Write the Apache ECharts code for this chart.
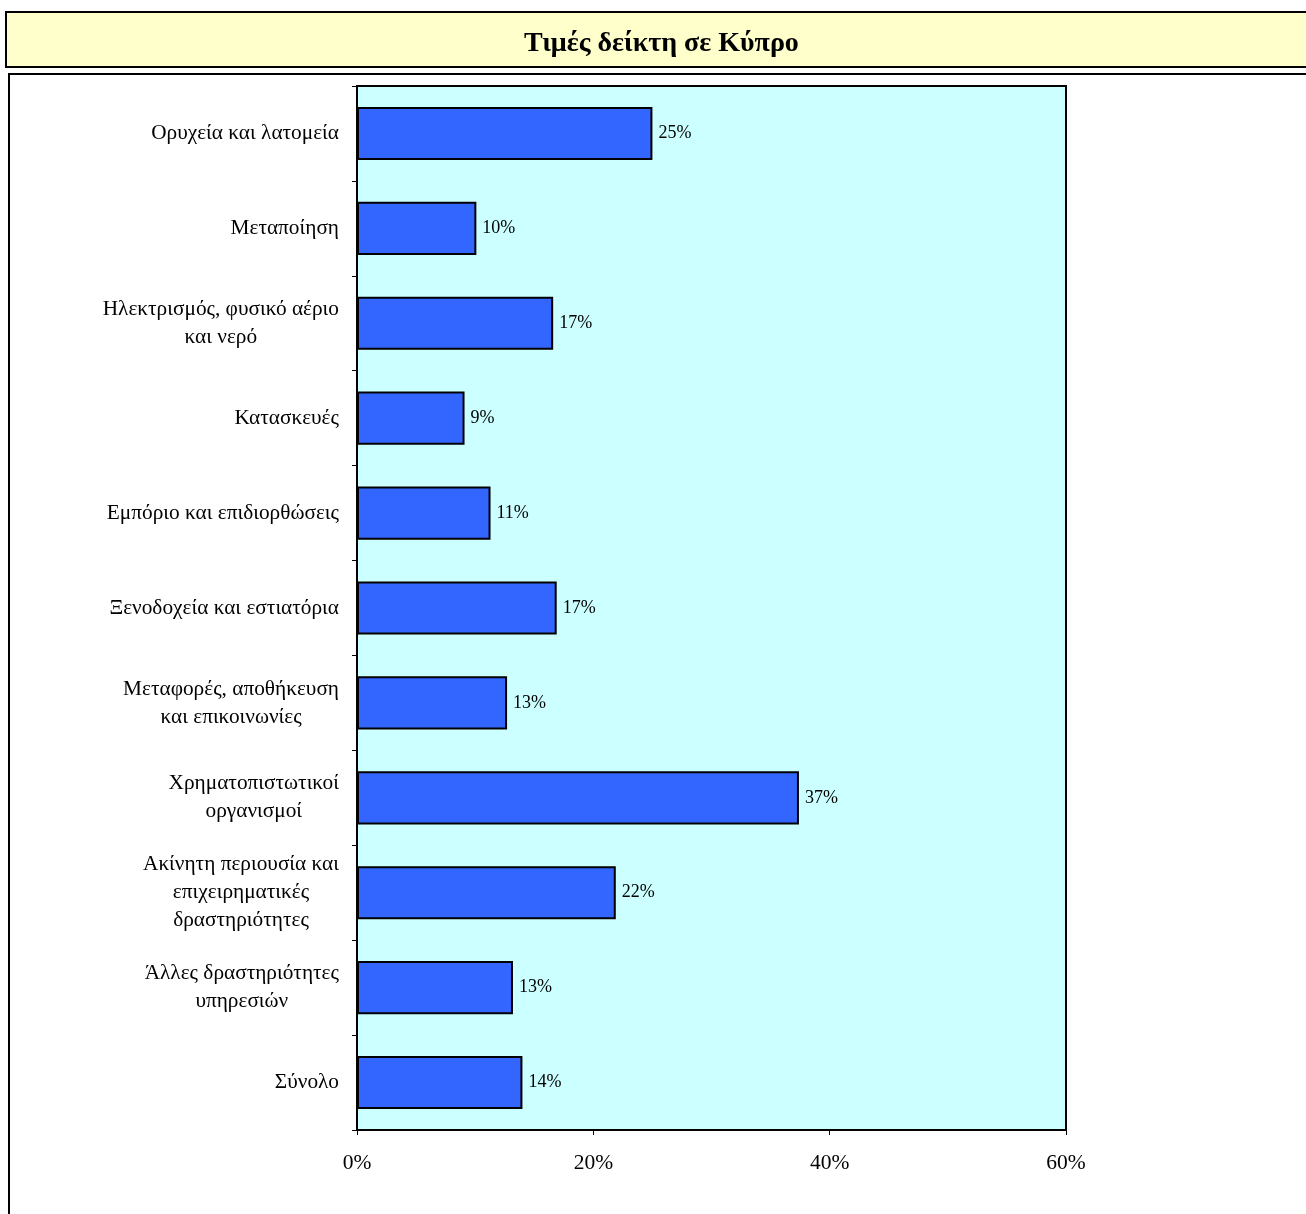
<!DOCTYPE html>
<html>
<head>
<meta charset="utf-8">
<script src="https://cdn.jsdelivr.net/npm/echarts@6/dist/echarts.min.js"></script>
<style>
html,body{margin:0;padding:0;background:#fff;}
#chart{width:1306px;height:1214px;}
</style>
</head>
<body>
<div id="chart"></div>
<script>
var titleText = 'Τιμές δείκτη σε Κύπρο';
var categories = [
  'Ορυχεία και λατομεία',
  'Μεταποίηση',
  'Ηλεκτρισμός, φυσικό αέριο\nκαι νερό',
  'Κατασκευές',
  'Εμπόριο και επιδιορθώσεις',
  'Ξενοδοχεία και εστιατόρια',
  'Μεταφορές, αποθήκευση\nκαι επικοινωνίες',
  'Χρηματοπιστωτικοί\nοργανισμοί',
  'Ακίνητη περιουσία και\nεπιχειρηματικές\nδραστηριότητες',
  'Άλλες δραστηριότητες\nυπηρεσιών',
  'Σύνολο'
];
var values = [25.0, 10.1, 16.6, 9.1, 11.3, 16.9, 12.7, 37.4, 21.9, 13.2, 14.0];
var xTicks = [0, 20, 40, 60];

var FONT = '"Liberation Serif", "Times New Roman", serif';
var chart = echarts.init(document.getElementById('chart'), null, {renderer: 'canvas'});
chart.setOption({
  animation: false,
  backgroundColor: '#ffffff',
  graphic: [
    {type: 'rect', z: -10, shape: {x: 6, y: 12, width: 1320, height: 55},
     style: {fill: '#FFFFCC', stroke: '#000', lineWidth: 2}},
    {type: 'rect', z: -10, shape: {x: 9, y: 74, width: 1320, height: 1200},
     style: {fill: 'none', stroke: '#000', lineWidth: 2}}
  ],
  title: {
    text: titleText,
    left: 519,
    top: 25,
    textStyle: {fontFamily: FONT, fontWeight: 'bold', fontSize: 28, color: '#000'}
  },
  grid: {
    left: 357, top: 86, width: 709, height: 1044,
    show: true, backgroundColor: '#CCFFFF', borderColor: '#000', borderWidth: 2
  },
  xAxis: {
    type: 'value',
    min: xTicks[0], max: xTicks[xTicks.length - 1], interval: xTicks[1] - xTicks[0],
    axisLine: {show: true, lineStyle: {color: '#000', width: 2}},
    axisTick: {show: true, length: 5, lineStyle: {color: '#000', width: 1}},
    splitLine: {show: false},
    axisLabel: {
      formatter: '{value}%', margin: 22,
      fontFamily: FONT, fontSize: 21.5, color: '#000'
    }
  },
  yAxis: {
    type: 'category',
    inverse: true,
    data: categories,
    axisLine: {show: true, lineStyle: {color: '#000', width: 2}},
    axisTick: {show: true, length: 5, alignWithLabel: false, lineStyle: {color: '#000', width: 1}},
    splitLine: {show: false},
    axisLabel: {
      margin: 18,
      interval: 0,
      fontFamily: FONT, fontSize: 21.3, color: '#000', lineHeight: 28,
      formatter: function (v) {
        return v.split('\n').map(function (s) { return '{c|' + s + '}'; }).join('\n');
      },
      rich: {c: {align: 'center', fontFamily: FONT, fontSize: 21.3, lineHeight: 28, color: '#000'}}
    }
  },
  series: [{
    type: 'bar',
    data: values,
    barCategoryGap: '44%',
    itemStyle: {color: '#3366FF', borderColor: '#000', borderWidth: 2},
    label: {
      show: true, position: 'right', distance: 6,
      fontFamily: FONT, fontSize: 18, color: '#000',
      formatter: function (p) { return Math.round(p.value) + '%'; }
    }
  }]
});
</script>
</body>
</html>
